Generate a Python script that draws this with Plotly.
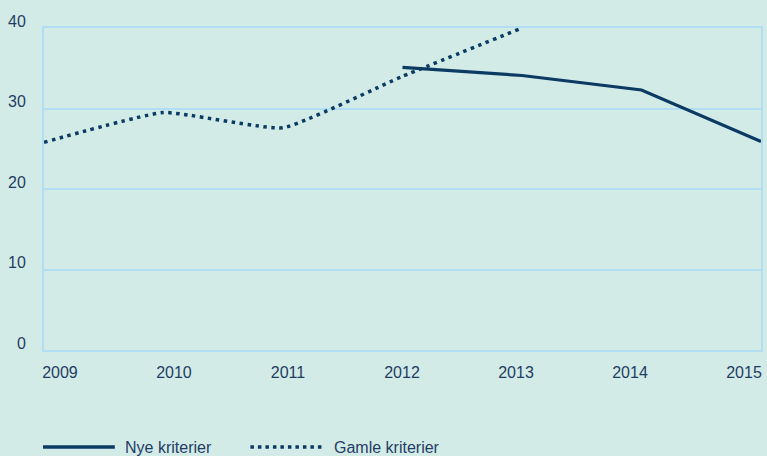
import plotly.graph_objects as go

years = [2009, 2010, 2011, 2012, 2013, 2014, 2015]
gamle_years = [2009, 2010, 2011, 2012, 2013]
gamle_vals = [25.8, 29.5, 27.6, 34.0, 40.0]
nye_years = [2012, 2013, 2014, 2015]
nye_vals = [35.1, 34.1, 32.3, 25.9]
y_ticks = [0, 10, 20, 30, 40]
series_names = ["Nye kriterier", "Gamle kriterier"]

navy = "#0b3a63"
bg = "#d3ebe7"
grid = "#b1def2"
txt = "#1f3d64"
FONT = "Liberation Sans, Arial, sans-serif"

W, H = 767, 456
ML, MR, MT, MB = 44, 4, 28, 106
PW, PH = W - ML - MR, H - MT - MB

def px(x):
    return (x - ML) / PW

def py(y):
    return 1 - (y - MT) / PH

DOT = "3.5px,4.5px"

fig = go.Figure()
fig.add_trace(go.Scatter(x=nye_years, y=nye_vals, mode="lines", name=series_names[0],
                         line=dict(color=navy, width=3.2), showlegend=False))
fig.add_trace(go.Scatter(x=gamle_years, y=gamle_vals, mode="lines", name=series_names[1],
                         line=dict(color=navy, width=3.5, dash=DOT, shape="spline", smoothing=0.4),
                         showlegend=False))
# invisible trace on overlay axis carrying the year labels
fig.add_trace(go.Scatter(x=years, y=[None]*len(years), xaxis="x2", showlegend=False, hoverinfo="skip"))

# manual legend (long symbol samples)
ly = py(447)
fig.add_shape(type="line", xref="paper", yref="paper", x0=px(43), x1=px(115), y0=ly, y1=ly,
              line=dict(color=navy, width=3.5))
fig.add_shape(type="line", xref="paper", yref="paper", x0=px(251), x1=px(325), y0=ly, y1=ly,
              line=dict(color=navy, width=3.5, dash="3.5px,4px"))
fig.add_annotation(xref="paper", yref="paper", x=px(123), y=ly, text=series_names[0],
                   showarrow=False, xanchor="left", yanchor="middle",
                   font=dict(family=FONT, size=16, color=txt))
fig.add_annotation(xref="paper", yref="paper", x=px(333), y=ly, text=series_names[1],
                   showarrow=False, xanchor="left", yanchor="middle",
                   font=dict(family=FONT, size=16, color=txt))

fig.update_layout(
    width=W, height=H,
    paper_bgcolor=bg, plot_bgcolor=bg,
    margin=dict(l=ML, r=MR, t=MT, b=MB),
    font=dict(family=FONT, size=16, color=txt),
    showlegend=False,
    xaxis=dict(range=[2009, 2015], showgrid=False, showticklabels=False, ticks="",
               showline=True, mirror=True, linecolor=grid, linewidth=2, zeroline=False),
    xaxis2=dict(overlaying="x", range=[2008.86, 2015.149], tickvals=years,
                ticktext=[str(y) for y in years], showgrid=False, showline=False,
                zeroline=False, ticks="", side="bottom", ticklabelstandoff=11,
                tickfont=dict(size=16, color=txt)),
    yaxis=dict(range=[0, 40], tickvals=y_ticks, showgrid=True, gridcolor=grid, gridwidth=2,
               showline=True, mirror=True, linecolor=grid, linewidth=2, zeroline=False,
               ticks="", ticklabelstandoff=13, ticklabelshift=-7,
               tickfont=dict(size=16, color=txt)),
)

fig.write_html("out.html", config={"displayModeBar": False},
               post_script="document.body.style.margin='0';document.body.style.overflow='hidden';")
